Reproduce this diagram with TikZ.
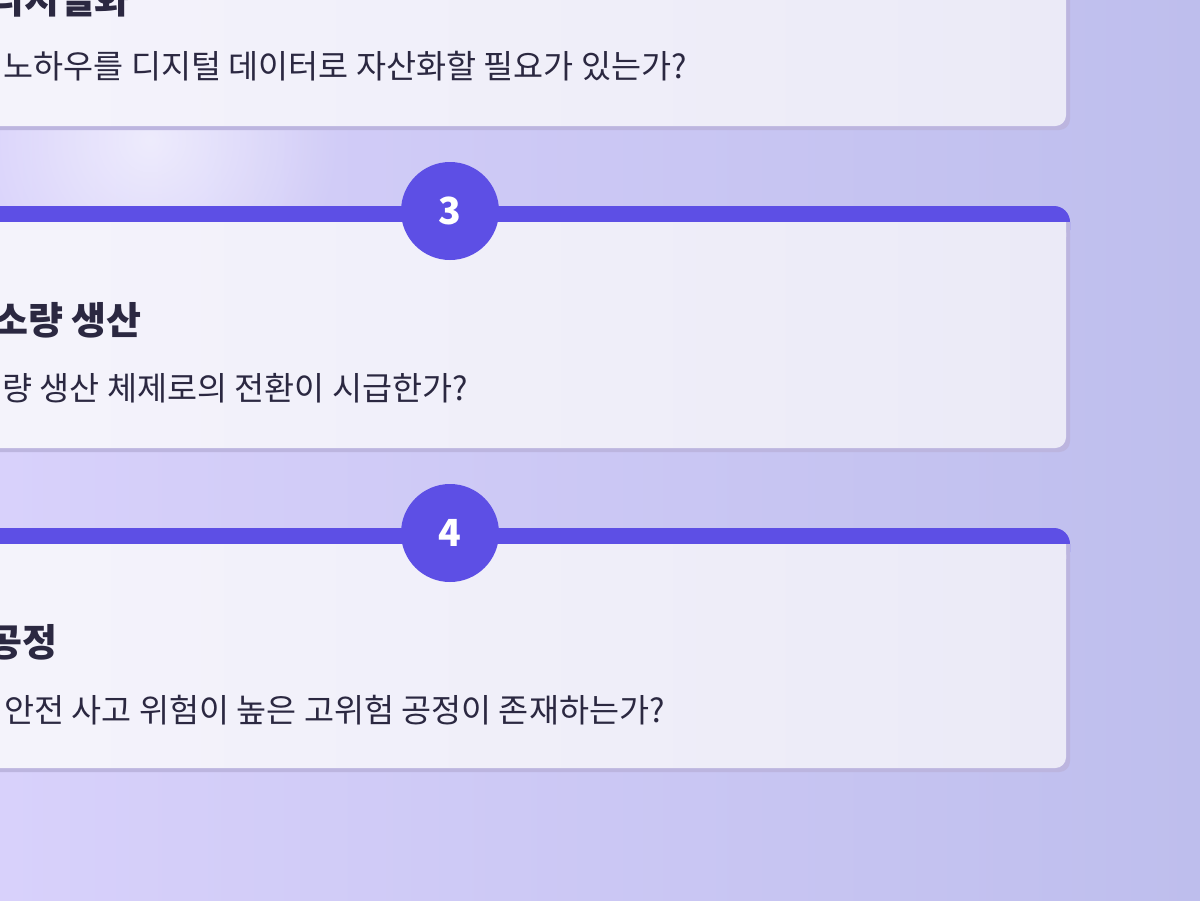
\documentclass[tikz,border=0pt]{standalone}
\usepackage{fontspec}
\setmainfont{Noto Sans CJK KR}
\usepackage{tikz}
\usetikzlibrary{fadings}

\definecolor{bgleft}{HTML}{D8D1FB}
\definecolor{bgright}{HTML}{BEBEED}
\definecolor{barblau}{HTML}{5D4FE5}
\definecolor{kartehell}{HTML}{F6F5FC}
\definecolor{karte}{HTML}{EBEAF7}
\definecolor{schatten}{HTML}{BCB5DF}
\definecolor{schrift}{HTML}{2B2841}

\tikzfading[name=glanz, inner color=transparent!0, outer color=transparent!100]

\begin{document}
\begin{tikzpicture}[x=0.75pt, y=-0.75pt,
  titel/.style={anchor=base east, inner sep=0pt, text=schrift, font=\fontsize{28.5}{32}\selectfont\bfseries},
  frage/.style={anchor=base east, inner sep=0pt, text=schrift, font=\fontsize{24.5}{28}\selectfont},
  nummer/.style={circle, fill=barblau, text=white, minimum size=73.5pt, inner sep=0pt, font=\fontsize{28}{30}\selectfont\bfseries}]

\useasboundingbox (0,0) rectangle (1200,900);
\clip (0,0) rectangle (1200,900);

% hintergrund
\shade[left color=bgleft, right color=bgright] (0,0) rectangle (1200,900);
\fill[white, opacity=0.6, path fading=glanz] (150,140) circle (190);

% karte 2 (oben, abgeschnitten)
\fill[barblau, rounded corners=12] (-170,-116) rectangle (1070,-76);
\fill[schatten] (-166,-100) rectangle (1070,-86);
\fill[schatten, rounded corners=8] (-166,-100) rectangle (1070,130);
\shade[left color=kartehell, right color=karte, rounded corners=8] (-170,-100) rectangle (1066,126);
\node[titel] (T2) at (130,13) {디지털화};
\node[frage] (F2) at (687,78) {노하우를 디지털 데이터로 자산화할 필요가 있는가?};

% karte 3
\fill[barblau, rounded corners=12] (-170,206) rectangle (1070,246);
\fill[schatten] (-166,222) rectangle (1070,236);
\fill[schatten, rounded corners=8] (-166,222) rectangle (1070,452);
\shade[left color=kartehell, right color=karte, rounded corners=8] (-170,222) rectangle (1066,448);
\shade[left color=kartehell, right color=karte] (-170,222) rectangle (1066,236);
\node[nummer] (N3) at (450,211) {3};
\node[titel] (T3) at (142,334) {소량 생산};
\node[frage] (F3) at (468,400) {량 생산 체제로의 전환이 시급한가?};

% karte 4
\fill[barblau, rounded corners=12] (-170,528) rectangle (1070,568);
\fill[schatten] (-166,544) rectangle (1070,558);
\fill[schatten, rounded corners=8] (-166,544) rectangle (1070,772);
\shade[left color=kartehell, right color=karte, rounded corners=8] (-170,544) rectangle (1066,768);
\shade[left color=kartehell, right color=karte] (-170,544) rectangle (1066,558);
\node[nummer] (N4) at (450,533) {4};
\node[titel] (T4) at (58,656) {공정};
\node[frage] (F4) at (665,722) {안전 사고 위험이 높은 고위험 공정이 존재하는가?};

\end{tikzpicture}
\end{document}
